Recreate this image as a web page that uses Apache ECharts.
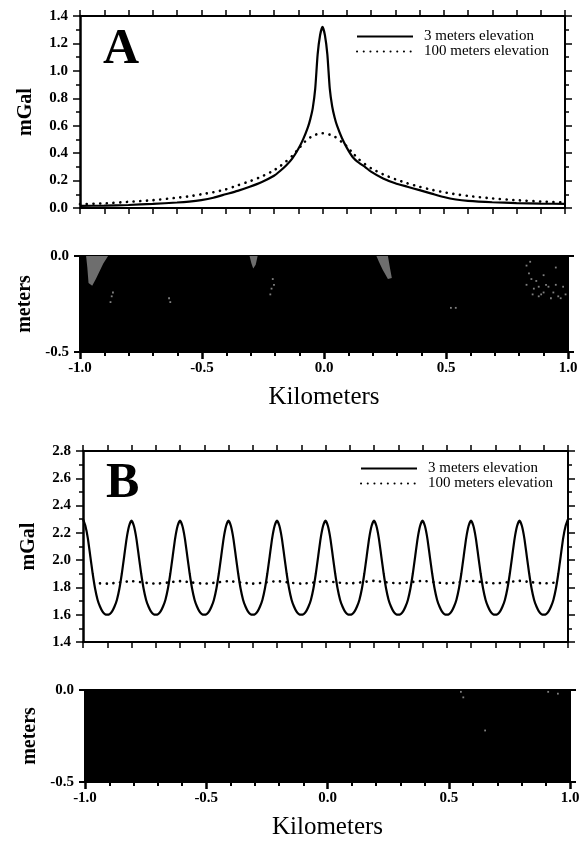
<!DOCTYPE html>
<html><head><meta charset="utf-8">
<script src="https://cdn.jsdelivr.net/npm/echarts@6/dist/echarts.min.js"></script>
<style>html,body{margin:0;padding:0;background:#fff}#c{width:583px;height:841px}</style>
</head><body><div id="c"></div>
<script>
// ---------- Panel A data ----------
const xA = [-1.0,-0.9,-0.8,-0.7,-0.6,-0.55,-0.5,-0.45,-0.4,-0.35,-0.3,-0.25,-0.2,-0.175,-0.15,-0.125,-0.1,-0.08,-0.06,-0.05,-0.04,-0.03,-0.02,-0.01,0,
  0.01,0.02,0.03,0.04,0.05,0.06,0.08,0.1,0.125,0.15,0.175,0.2,0.25,0.3,0.35,0.4,0.45,0.5,0.55,0.6,0.7,0.8,0.9,1.0];
const solidA = [0.015,0.018,0.022,0.03,0.04,0.047,0.058,0.075,0.10,0.125,0.155,0.19,0.235,0.27,0.31,0.36,0.43,0.50,0.59,0.65,0.73,0.87,1.12,1.26,1.32,
  1.26,1.12,0.87,0.74,0.66,0.60,0.51,0.44,0.37,0.33,0.30,0.265,0.215,0.18,0.155,0.13,0.105,0.08,0.062,0.052,0.042,0.036,0.032,0.03];
const dottedA = [0.028,0.034,0.045,0.057,0.075,0.085,0.10,0.115,0.135,0.165,0.195,0.23,0.275,0.305,0.34,0.38,0.43,0.47,0.505,0.515,0.525,0.533,0.54,0.544,0.545,
  0.544,0.54,0.535,0.528,0.52,0.51,0.48,0.45,0.40,0.355,0.32,0.29,0.245,0.21,0.18,0.155,0.133,0.115,0.10,0.088,0.07,0.057,0.047,0.04];

// ---------- Panel B data ----------
const xB = [
 -1,-0.99,-0.98,-0.97,-0.96,-0.95,-0.94,-0.93,-0.92,-0.91,-0.9,-0.89,-0.88,-0.87,-0.86,-0.85,-0.84,-0.83,-0.82,-0.81,
 -0.8,-0.79,-0.78,-0.77,-0.76,-0.75,-0.74,-0.73,-0.72,-0.71,-0.7,-0.69,-0.68,-0.67,-0.66,-0.65,-0.64,-0.63,-0.62,-0.61,
 -0.6,-0.59,-0.58,-0.57,-0.56,-0.55,-0.54,-0.53,-0.52,-0.51,-0.5,-0.49,-0.48,-0.47,-0.46,-0.45,-0.44,-0.43,-0.42,-0.41,
 -0.4,-0.39,-0.38,-0.37,-0.36,-0.35,-0.34,-0.33,-0.32,-0.31,-0.3,-0.29,-0.28,-0.27,-0.26,-0.25,-0.24,-0.23,-0.22,-0.21,
 -0.2,-0.19,-0.18,-0.17,-0.16,-0.15,-0.14,-0.13,-0.12,-0.11,-0.1,-0.09,-0.08,-0.07,-0.06,-0.05,-0.04,-0.03,-0.02,-0.01,
 0,0.01,0.02,0.03,0.04,0.05,0.06,0.07,0.08,0.09,0.1,0.11,0.12,0.13,0.14,0.15,0.16,0.17,0.18,0.19,
 0.2,0.21,0.22,0.23,0.24,0.25,0.26,0.27,0.28,0.29,0.3,0.31,0.32,0.33,0.34,0.35,0.36,0.37,0.38,0.39,
 0.4,0.41,0.42,0.43,0.44,0.45,0.46,0.47,0.48,0.49,0.5,0.51,0.52,0.53,0.54,0.55,0.56,0.57,0.58,0.59,
 0.6,0.61,0.62,0.63,0.64,0.65,0.66,0.67,0.68,0.69,0.7,0.71,0.72,0.73,0.74,0.75,0.76,0.77,0.78,0.79,
 0.8,0.81,0.82,0.83,0.84,0.85,0.86,0.87,0.88,0.89,0.9,0.91,0.92,0.93,0.94,0.95,0.96,0.97,0.98,0.99,
 1];
const solidB = [
 2.30,2.25,2.16,2.03,1.9,1.79,1.71,1.66,1.625,1.605,1.6,1.605,1.625,1.66,1.71,1.79,1.9,2.03,2.16,2.25,
 2.29,2.25,2.16,2.03,1.9,1.79,1.71,1.66,1.625,1.605,1.6,1.605,1.625,1.66,1.71,1.79,1.9,2.03,2.16,2.25,
 2.29,2.25,2.16,2.03,1.9,1.79,1.71,1.66,1.625,1.605,1.6,1.605,1.625,1.66,1.71,1.79,1.9,2.03,2.16,2.25,
 2.29,2.25,2.16,2.03,1.9,1.79,1.71,1.66,1.625,1.605,1.6,1.605,1.625,1.66,1.71,1.79,1.9,2.03,2.16,2.25,
 2.29,2.25,2.16,2.03,1.9,1.79,1.71,1.66,1.625,1.605,1.6,1.605,1.625,1.66,1.71,1.79,1.9,2.03,2.16,2.25,
 2.29,2.25,2.16,2.03,1.9,1.79,1.71,1.66,1.625,1.605,1.6,1.605,1.625,1.66,1.71,1.79,1.9,2.03,2.16,2.25,
 2.29,2.25,2.16,2.03,1.9,1.79,1.71,1.66,1.625,1.605,1.6,1.605,1.625,1.66,1.71,1.79,1.9,2.03,2.16,2.25,
 2.29,2.25,2.16,2.03,1.9,1.79,1.71,1.66,1.625,1.605,1.6,1.605,1.625,1.66,1.71,1.79,1.9,2.03,2.16,2.25,
 2.29,2.25,2.16,2.03,1.9,1.79,1.71,1.66,1.625,1.605,1.6,1.605,1.625,1.66,1.71,1.79,1.9,2.03,2.16,2.25,
 2.29,2.25,2.16,2.03,1.9,1.79,1.71,1.66,1.625,1.605,1.6,1.605,1.625,1.66,1.71,1.79,1.9,2.03,2.16,2.25,
 2.30];
const xBdot = [-0.93,-0.9,-0.85,-0.8,-0.75,-0.7,-0.65,-0.6,-0.55,-0.5,-0.45,-0.4,-0.35,-0.3,-0.25,-0.2,-0.15,-0.1,-0.05,0,
  0.05,0.1,0.15,0.2,0.25,0.3,0.35,0.4,0.45,0.5,0.55,0.6,0.65,0.7,0.75,0.8,0.85,0.9,0.95];
const dottedB = [1.83,1.828,1.836,1.846,1.836,1.828,1.836,1.846,1.836,1.828,1.836,1.846,1.836,1.828,1.836,1.846,1.836,1.828,1.836,1.846,
  1.836,1.83,1.838,1.848,1.838,1.83,1.838,1.848,1.838,1.83,1.838,1.848,1.838,1.83,1.838,1.848,1.838,1.83,1.836];

// ---------- Topography strips ----------
const stripX = [-1, 1];
const stripTopA = [0, 0];
const stripTopB = [0, 0];
// grey halftone patches seen in strip A (polygon vertices: x km, y m)
const patchesA = [
  [[-0.975, 0], [-0.885, 0], [-0.905, -0.04], [-0.935, -0.12], [-0.95, -0.155], [-0.965, -0.14], [-0.97, -0.06]],
  [[-0.305, 0], [-0.272, 0], [-0.28, -0.045], [-0.29, -0.065], [-0.297, -0.04]],
  [[0.215, 0], [0.262, 0], [0.27, -0.06], [0.278, -0.115], [0.262, -0.12], [0.24, -0.07], [0.225, -0.03]]
];
// isolated light speckles (x km, y m)
const speckleA = [
 [-0.87,-0.21],[-0.875,-0.24],[-0.865,-0.19],[-0.63,-0.24],[-0.635,-0.22],
 [-0.21,-0.12],[-0.215,-0.17],[-0.22,-0.2],[-0.205,-0.15],
 [0.52,-0.27],[0.54,-0.27],
 [0.83,-0.05],[0.84,-0.09],[0.85,-0.12],[0.83,-0.15],[0.86,-0.17],[0.88,-0.16],[0.9,-0.19],[0.92,-0.16],[0.94,-0.19],[0.96,-0.21],[0.98,-0.16],
 [0.88,-0.21],[0.93,-0.22],[0.97,-0.22],[0.9,-0.1],[0.95,-0.06],[0.845,-0.03],[0.87,-0.13],[0.91,-0.15],[0.95,-0.15],[0.99,-0.2],[0.89,-0.2],[0.855,-0.2]
];
const speckleB = [[0.55,-0.01],[0.56,-0.04],[0.65,-0.22],[0.91,-0.01],[0.95,-0.02]];

// ---------- Tick labels ----------
const kmLabels = ['-1.0', '-0.5', '0.0', '0.5', '1.0'];
const stripYLabels = ['-0.5', '0.0'];
const seriesNames = ['3 meters elevation', '100 meters elevation'];

const pairs = (xs, ys) => xs.map((x, i) => [x, ys[i]]);
const FONT = 'Liberation Serif';
const BLACK = '#000';

const grids = [
  {left: 80, top: 16, width: 485, height: 192},
  {left: 80, top: 256, width: 488, height: 96},
  {left: 83, top: 451, width: 485, height: 191},
  {left: 85, top: 690, width: 485, height: 95}
];

const lineW = 2;
function xPlotAxis(g, pos) {
  return {type: 'value', gridIndex: g, position: pos, min: -1, max: 1, interval: 0.1,
    axisLine: {show: true, onZero: false, lineStyle: {color: BLACK, width: lineW}},
    axisTick: {show: true, inside: false, length: 6, lineStyle: {color: BLACK, width: 1.5}},
    axisLabel: {show: false}, splitLine: {show: false}};
}
function xStripBottom(g, gap) {
  return {type: 'value', gridIndex: g, position: 'bottom', min: -1, max: 1, interval: 0.5,
    axisLine: {show: true, onZero: false, lineStyle: {color: BLACK, width: lineW}},
    axisTick: {show: true, inside: false, length: 7, lineStyle: {color: BLACK, width: 2.5}},
    minorTick: {show: true, splitNumber: 5, length: 4, lineStyle: {color: BLACK, width: 2}},
    axisLabel: {show: true, margin: 9, fontFamily: FONT, fontWeight: 'bold', fontSize: 15, color: BLACK,
      formatter: v => kmLabels[Math.round((v + 1) / 0.5)]},
    splitLine: {show: false}, minorSplitLine: {show: false},
    name: 'Kilometers', nameLocation: 'middle', nameGap: gap,
    nameTextStyle: {fontFamily: FONT, fontSize: 25, color: BLACK}};
}
function xStripTop(g) {
  return {type: 'value', gridIndex: g, position: 'top', min: -1, max: 1,
    axisLine: {show: true, onZero: false, lineStyle: {color: BLACK, width: lineW}},
    axisTick: {show: false}, axisLabel: {show: false}, splitLine: {show: false}};
}
function yPlotAxis(g, pos, min, max, labels) {
  return {type: 'value', gridIndex: g, position: pos, min: min, max: max, interval: 0.2,
    axisLine: {show: true, onZero: false, lineStyle: {color: BLACK, width: pos === 'left' ? 2.5 : lineW}},
    axisTick: {show: true, inside: false, length: 7, lineStyle: {color: BLACK, width: 1.5}},
    minorTick: {show: true, splitNumber: 2, length: 4, lineStyle: {color: BLACK, width: 1.5}},
    axisLabel: {show: labels, margin: 12, fontFamily: FONT, fontWeight: 'bold', fontSize: 15, color: BLACK,
      formatter: v => v.toFixed(1)},
    splitLine: {show: false}, minorSplitLine: {show: false},
    name: labels ? 'mGal' : '', nameLocation: 'middle', nameGap: 44,
    nameTextStyle: {fontFamily: FONT, fontSize: 20, fontWeight: 'bold', color: BLACK}};
}
function yStripAxis(g, pos, labels) {
  return {type: 'value', gridIndex: g, position: pos, min: -0.5, max: 0, interval: 0.5,
    axisLine: {show: true, onZero: false, lineStyle: {color: BLACK, width: 2}},
    axisTick: {show: true, inside: false, length: 6, lineStyle: {color: BLACK, width: 2}},
    axisLabel: {show: labels, margin: 11, fontFamily: FONT, fontWeight: 'bold', fontSize: 15, color: BLACK,
      formatter: v => stripYLabels[Math.round((v + 0.5) / 0.5)]},
    splitLine: {show: false},
    name: labels ? 'meters' : '', nameLocation: 'middle', nameGap: 44,
    nameTextStyle: {fontFamily: FONT, fontSize: 20, fontWeight: 'bold', color: BLACK}};
}

const solidStyle = {color: BLACK, width: 2.2, type: 'solid'};
const dotStyle = {color: BLACK, width: 2.6, type: [0.1, 6.6], cap: 'round'};

function lineSeries(name, xi, yi, data, style, z) {
  return {name: name, type: 'line', xAxisIndex: xi, yAxisIndex: yi, data: data,
    symbol: 'none', showSymbol: false, smooth: 0.2, lineStyle: style, itemStyle: {color: BLACK},
    animation: false, silent: true, z: z};
}
function stripSeries(xi, yi, top) {
  return {type: 'line', xAxisIndex: xi, yAxisIndex: yi, data: pairs(stripX, top),
    symbol: 'none', lineStyle: {color: BLACK, width: 1}, areaStyle: {color: BLACK, opacity: 1, origin: 'start'},
    animation: false, silent: true, z: 1};
}
function speckleSeries(xi, yi, pts) {
  return {type: 'scatter', xAxisIndex: xi, yAxisIndex: yi, data: pts, symbol: 'rect', symbolSize: 1.8,
    itemStyle: {color: '#a0a0a0'}, animation: false, silent: true, z: 3};
}
function patchSeries(xi, yi, polys) {
  return {type: 'custom', xAxisIndex: xi, yAxisIndex: yi, data: polys.map((p, i) => [i]),
    animation: false, silent: true, z: 2,
    renderItem: (params, api) => {
      const poly = polys[params.dataIndex];
      return {type: 'polygon', shape: {points: poly.map(p => api.coord(p))},
        style: {fill: '#6e6e6e', stroke: null}};
    }};
}

const legendBase = {orient: 'vertical', itemWidth: 56, itemHeight: 14, itemGap: 0, selectedMode: false,
  data: seriesNames, padding: 0,
  itemStyle: {opacity: 0},
  textStyle: {fontFamily: FONT, fontSize: 15, color: BLACK, padding: [0, 0, 0, 6]}};

const option = {
  animation: false,
  backgroundColor: '#fff',
  title: [
    {text: 'A', left: 103, top: 25, padding: 0, textStyle: {fontFamily: FONT, fontSize: 50, fontWeight: 'bold', color: BLACK}},
    {text: 'B', left: 106, top: 459, padding: 0, textStyle: {fontFamily: FONT, fontSize: 50, fontWeight: 'bold', color: BLACK}}
  ],
  legend: [
    Object.assign({}, legendBase, {left: 356, top: 29}),
    Object.assign({}, legendBase, {left: 360, top: 461})
  ],
  grid: grids,
  xAxis: [
    xPlotAxis(0, 'bottom'), xPlotAxis(0, 'top'),
    xStripBottom(1, 33), xStripTop(1),
    xPlotAxis(2, 'bottom'), xPlotAxis(2, 'top'),
    xStripBottom(3, 33), xStripTop(3)
  ],
  yAxis: [
    yPlotAxis(0, 'left', 0, 1.4, true), yPlotAxis(0, 'right', 0, 1.4, false),
    yStripAxis(1, 'left', true), yStripAxis(1, 'right', false),
    yPlotAxis(2, 'left', 1.4, 2.8, true), yPlotAxis(2, 'right', 1.4, 2.8, false),
    yStripAxis(3, 'left', true), yStripAxis(3, 'right', false)
  ],
  series: [
    lineSeries(seriesNames[0], 0, 0, pairs(xA, solidA), solidStyle, 3),
    lineSeries(seriesNames[1], 0, 0, pairs(xA, dottedA), dotStyle, 2),
    stripSeries(2, 2, stripTopA),
    patchSeries(2, 2, patchesA),
    speckleSeries(2, 2, speckleA),
    lineSeries(seriesNames[0], 4, 4, pairs(xB, solidB), solidStyle, 3),
    lineSeries(seriesNames[1], 4, 4, pairs(xBdot, dottedB), dotStyle, 2),
    stripSeries(6, 6, stripTopB),
    speckleSeries(6, 6, speckleB)
  ]
};

const chart = echarts.init(document.getElementById('c'), null, {renderer: 'canvas'});
chart.setOption(option);
</script>
</body></html>
